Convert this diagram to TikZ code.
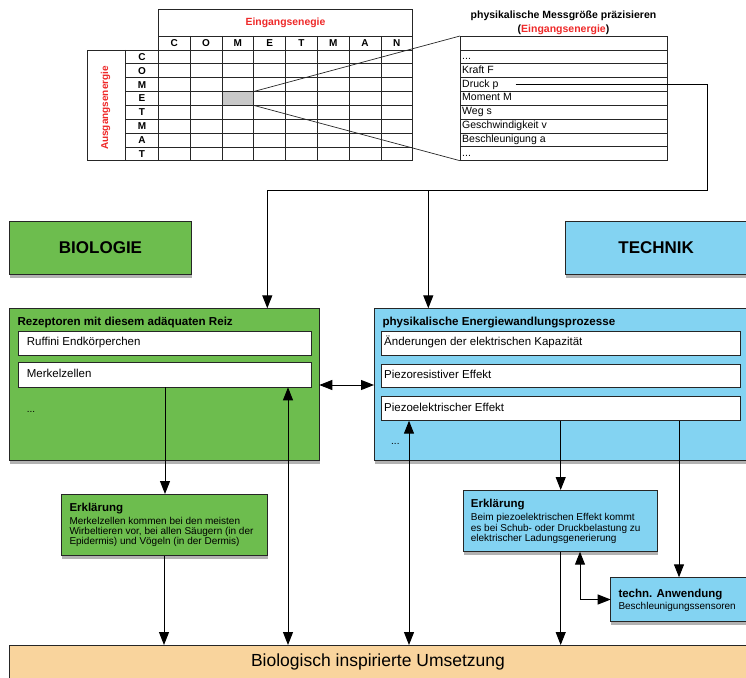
\documentclass[tikz,border=0pt]{standalone}
\usepackage{fontspec}
\setmainfont{Liberation Sans}
\usetikzlibrary{shadows,arrows.meta}
\definecolor{bgreen}{RGB}{109,189,78}
\definecolor{bblue}{RGB}{131,211,242}
\definecolor{peach}{RGB}{249,212,157}
\definecolor{ered}{RGB}{238,40,40}
\definecolor{cgray}{RGB}{200,200,200}
\tikzset{
  fs/.style={font=\fontsize{#1}{#1}\selectfont},
  fsb/.style={font=\fontsize{#1}{#1}\selectfont\bfseries},
  box/.style={draw=black!85, line width=1pt, anchor=north west, inner sep=0pt, outer sep=0pt},
  shad/.style={drop shadow={shadow xshift=0.6pt, shadow yshift=-3.5pt, opacity=0.3, fill=black}},
  wbox/.style={box, fill=white, line width=0.9pt},
  txt/.style={anchor=mid west, inner sep=0pt},
  gridline/.style={draw=black!85, line width=0.7pt},
  arr/.style={-{Triangle[length=13pt,width=10pt]}, line width=1pt},
  darr/.style={{Triangle[length=13pt,width=10pt]}-{Triangle[length=13pt,width=10pt]}, line width=1pt},
}
\begin{document}
\begin{tikzpicture}[x=1pt,y=-1pt]
\useasboundingbox (0,0) rectangle (746,677);

% ---------- matrix ----------
\node[box, gridline, fill=cgray, minimum width=31.8pt, minimum height=13.84pt] (cell) at (221.9,91.52) {};
\draw[gridline] (158.3,9) rectangle (412.7,160.7);
\draw[gridline] (158.3,36) -- (412.7,36);
\draw[gridline] (87.3,50) rectangle (412.7,160.7);
\draw[gridline] (125.7,50) -- (125.7,160.7);
\foreach \i in {1,2,3,4,5,6,7} \draw[gridline] ({158.3+31.8*\i},36) -- ({158.3+31.8*\i},160.7);
\foreach \i in {1,2,3,4,5,6,7} \draw[gridline] (125.7,{50+13.84*\i}) -- (412.7,{50+13.84*\i});
\node[fsb=10.4, text=ered, inner sep=0pt] (ein) at (285.5,22.5) {Eingangsenegie};
\foreach \l [count=\i] in {C,O,M,E,T,M,A,N}
  \node[fsb=10, inner sep=0pt] (col\i) at ({158.3+31.8*(\i-0.5)},43) {\l};
\foreach \l [count=\i] in {C,O,M,E,T,M,A,T}
  \node[fsb=10, inner sep=0pt] (row\i) at (142,{50+13.84*(\i-0.5)}) {\l};
\node[fsb=10, text=ered, rotate=90, inner sep=0pt] (ausg) at (105.5,108) {Ausgangsenergie};

% ---------- right table ----------
\node[fsb=10.5, inner sep=0pt] (ttl) at (563.5,15.7) {physikalische Messgröße präzisieren};
\node[fsb=10.5, inner sep=0pt] (ttl2) at (563.5,29.7) {(\textcolor{ered}{Eingangsenergie})};
\node[box, gridline, minimum width=207.7pt, minimum height=124.7pt] (mt) at (460,36) {};
\foreach \i in {1,2,3,4,5,6,7,8} \draw[gridline] (460,{36+13.855*\i}) -- (667.7,{36+13.855*\i});
\node[txt, fs=10.5] (mr2) at (462,56.8) {...};
\node[txt, fs=10.5] (mr3) at (462,70.6) {Kraft F};
\node[txt, fs=10.5] (mr4) at (462,84.5) {Druck p};
\node[txt, fs=10.5] (mr5) at (462,98.3) {Moment M};
\node[txt, fs=10.5] (mr6) at (462,112.2) {Weg s};
\node[txt, fs=10.5] (mr7) at (462,126.1) {Geschwindigkeit v};
\node[txt, fs=10.5] (mr8) at (462,139.9) {Beschleunigung a};
\node[txt, fs=10.5] (mr9) at (462,153.8) {...};
\draw[gridline] (cell.north east) -- (mt.north west);
\draw[gridline] (cell.south east) -- (mt.south west);

% ---------- header boxes ----------
\node[box, fill=bgreen, shad, minimum width=182.4pt, minimum height=52.6pt, fsb=17] (bio) at (9.3,221.7) {BIOLOGIE};
\node[box, fill=bblue, shad, minimum width=182.4pt, minimum height=52.6pt, fsb=17] (tech) at (565,221.7) {TECHNIK};

% ---------- biology block ----------
\node[box, fill=bgreen, shad, minimum width=310pt, minimum height=151.7pt] (rez) at (9.3,308.3) {};
\node[txt, fsb=11.6] (rezt) at (17.3,322.7) {Rezeptoren mit diesem adäquaten Reiz};
\node[wbox, minimum width=293.4pt, minimum height=24pt] (ruff) at (18.3,331) {};
\node[txt, fs=11.5] (rufft) at (26.7,343) {Ruffini Endkörperchen};
\node[wbox, minimum width=293.4pt, minimum height=25pt] (merk) at (18.3,362.3) {};
\node[txt, fs=11.5] (merkt) at (26.7,374.8) {Merkelzellen};
\node[txt, fs=10] (bdots) at (26.7,410) {...};

% ---------- technik block ----------
\node[box, fill=bblue, shad, minimum width=374pt, minimum height=151.7pt] (phys) at (374,308.3) {};
\node[txt, fsb=11.6] (physt) at (382.3,323.3) {physikalische Energiewandlungsprozesse};
\node[wbox, minimum width=358.3pt, minimum height=23.3pt] (w1) at (381.7,331.7) {};
\node[txt, fs=11.5] (w1t) at (384,343.3) {Änderungen der elektrischen Kapazität};
\node[wbox, minimum width=358.3pt, minimum height=23.4pt] (w2) at (381.7,364.3) {};
\node[txt, fs=11.5] (w2t) at (384,376) {Piezoresistiver Effekt};
\node[wbox, minimum width=358.3pt, minimum height=24pt] (w3) at (381.7,396.7) {};
\node[txt, fs=11.5] (w3t) at (384,408.7) {Piezoelektrischer Effekt};
\node[txt, fs=10] (tdots) at (391,441.7) {...};

% ---------- explanation boxes ----------
\node[box, fill=bgreen, shad, minimum width=205.6pt, minimum height=61.7pt] (erk1) at (61.7,494) {};
\node[txt, fsb=11.5] (erk1h) at (69.3,509.3) {Erklärung};
\node[txt, fs=10] (erk1a) at (69.3,522) {Merkelzellen kommen bei den meisten};
\node[txt, fs=10] (erk1b) at (69.3,532) {Wirbeltieren vor, bei allen Säugern (in der};
\node[txt, fs=10] (erk1c) at (69.3,542) {Epidermis) und Vögeln (in der Dermis)};

\node[box, fill=bblue, shad, minimum width=194pt, minimum height=61.7pt] (erk2) at (463.3,490) {};
\node[txt, fsb=11.5] (erk2h) at (470.7,505) {Erklärung};
\node[txt, fs=10] (erk2a) at (470.7,518.3) {Beim piezoelektrischen Effekt kommt};
\node[txt, fs=10] (erk2b) at (470.7,528.5) {es bei Schub- oder Druckbelastung zu};
\node[txt, fs=10] (erk2c) at (470.7,539) {elektrischer Ladungsgenerierung};

\node[box, fill=bblue, shad, minimum width=137pt, minimum height=44.4pt] (anw) at (610.7,577.3) {};
\node[txt, fsb=11.5] (anwh) at (618.3,595) {techn. Anwendung};
\node[txt, fs=10] (anwt) at (618.3,606.7) {Beschleunigungssensoren};

% ---------- bottom ----------
\node[box, fill=peach, minimum width=740pt, minimum height=40pt] (bot) at (9.3,645) {};
\node[fs=17.5, inner sep=0pt] (bott) at (378,661.5) {Biologisch inspirierte Umsetzung};

% ---------- connectors ----------
\coordinate (dstart) at (515.7,84.5);
\coordinate (corner) at (707,190);
\coordinate (a1) at (267.3,190);
\coordinate (a2) at (428.3,190);
\draw[line width=1pt] (dstart) -| (corner) -- (a1);
\draw[arr] (a1) -- (a1 |- rez.north);
\draw[arr] (a2) -- (a2 |- phys.north);
\draw[darr] (rez.east |- 0,385) -- (phys.west |- 0,385);

\draw[arr] (merk.south -| 165,0) -- (erk1.north -| 165,0);
\draw[arr] (erk1.south -| 164,0) -- (bot.north -| 164,0);
\draw[darr] (merk.south -| 288,0) -- (bot.north -| 288,0);

\draw[darr] (w3.south -| 409,0) -- (bot.north -| 409,0);
\draw[arr] (w3.south -| 560.7,0) -- (erk2.north -| 560.7,0);
\draw[arr] (erk2.south -| 560.7,0) -- (bot.north -| 560.7,0);
\draw[darr] (erk2.south -| 580,0) |- (anw.west);
\draw[arr] (w3.south -| 679,0) -- (anw.north -| 679,0);
\end{tikzpicture}
\end{document}
